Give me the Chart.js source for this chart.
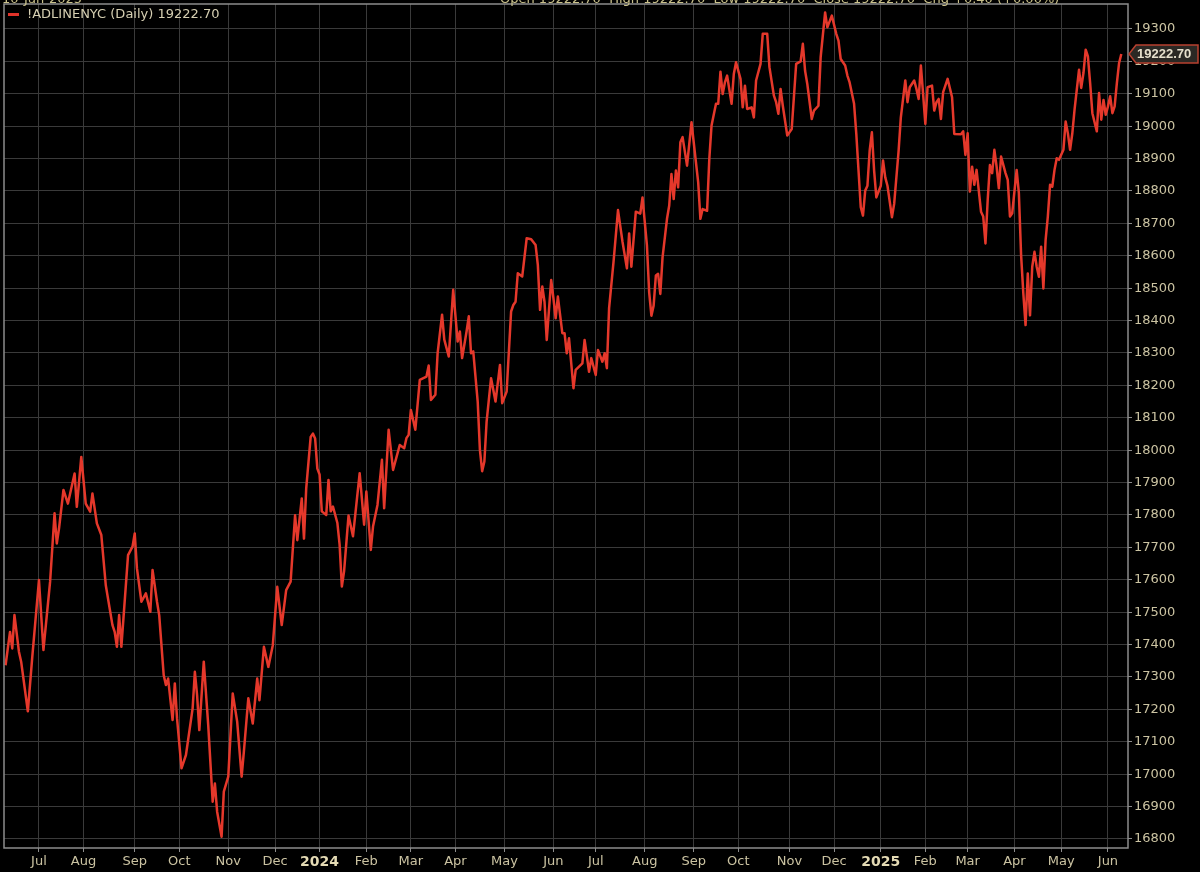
<!DOCTYPE html>
<html>
<head>
<meta charset="utf-8">
<script src="https://cdn.jsdelivr.net/npm/chart.js@4.4.1/dist/chart.umd.min.js"></script>
<style>
  html, body { margin: 0; padding: 0; background: #000; }
  #wrap { width: 1200px; height: 872px; }
</style>
</head>
<body>
<div id="wrap"><canvas id="adChart" width="1200" height="872"></canvas></div>
<script>
// month labels on the x axis (first session of each month)
const monthLabels = ['Jul', 'Aug', 'Sep', 'Oct', 'Nov', 'Dec', '2024', 'Feb', 'Mar', 'Apr', 'May', 'Jun',
    'Jul', 'Aug', 'Sep', 'Oct', 'Nov', 'Dec', '2025', 'Feb', 'Mar', 'Apr', 'May', 'Jun'];
// trading sessions before each label (first entry = 9-30 Jun 2023)
const monthSessions = [15, 20, 23, 20, 22, 21, 20, 21, 20, 20, 22, 22,
    19, 22, 22, 20, 23, 20, 21, 20, 19, 21, 21, 21];

// right axis tick labels
const yTickValues = [16800, 16900, 17000, 17100, 17200, 17300, 17400, 17500, 17600, 17700, 17800, 17900, 18000,
    18100, 18200, 18300, 18400, 18500, 18600, 18700, 18800, 18900, 19000, 19100, 19200, 19300];

// session number (0 = 9 Jun 2023) and A/D line close
const sessionNo = [
    0, 2, 3, 4, 6, 7, 10, 12, 15, 17, 20, 22, 23, 24, 26, 28, 31, 32, 34, 36, 38, 39, 41, 43, 45, 48, 49, 50, 51, 52,
    55, 57, 58, 59, 61, 63, 65, 66, 68, 69, 71, 72, 73, 75, 76, 77, 79, 81, 84, 85, 86, 87, 89, 91, 93, 94, 95, 97, 98, 100,
    102, 104, 106, 107, 109, 111, 113, 114, 116, 118, 120, 122, 124, 126, 128, 130, 131, 133, 134, 135, 137, 138, 139, 140, 141, 142, 144, 145, 146, 147,
    149, 150, 151, 152, 154, 156, 159, 161, 162, 164, 165, 167, 169, 170, 172, 174, 177, 179, 180, 181, 182, 184, 186, 189, 190, 191, 193, 194, 196, 197,
    199, 201, 203, 204, 205, 207, 208, 209, 210, 212, 213, 214, 215, 216, 218, 220, 222, 223, 225, 227, 228, 229, 230, 232, 234, 236, 238, 239, 240, 241,
    242, 243, 245, 246, 247, 248, 250, 251, 252, 253, 255, 256, 259, 260, 262, 263, 265, 266, 268, 269, 270, 271, 273, 275, 277, 279, 280, 281, 283, 285,
    286, 288, 289, 290, 291, 292, 293, 294, 295, 297, 298, 299, 300, 301, 302, 303, 304, 306, 308, 310, 311, 312, 313, 315, 316, 317, 319, 320, 321, 322,
    323, 324, 326, 327, 328, 330, 331, 332, 333, 335, 336, 337, 339, 340, 342, 343, 345, 346, 347, 348, 349, 351, 353, 355, 357, 358, 359, 360, 362, 363,
    365, 366, 368, 369, 371, 373, 374, 375, 377, 378, 379, 381, 382, 383, 384, 385, 386, 387, 388, 389, 390, 391, 393, 394, 395, 396, 398, 399, 401, 402,
    404, 405, 406, 408, 409, 410, 411, 412, 413, 414, 416, 417, 418, 419, 420, 421, 423, 425, 426, 429, 430, 431, 432, 433, 434, 435, 436, 438, 439, 440,
    441, 442, 443, 444, 445, 446, 447, 449, 450, 451, 452, 454, 455, 456, 457, 458, 459, 460, 461, 462, 463, 464, 465, 466, 467, 468, 469, 470, 471, 472,
    473, 475, 476, 477, 478, 479, 480, 482, 483, 484, 485, 486, 487, 488, 490, 491, 492, 493, 494, 495, 496, 497, 498, 499, 500, 501
];
const closeVal = [
    17336, 17439, 17388, 17491, 17378, 17347, 17194, 17362, 17599, 17383, 17594, 17805, 17712, 17758, 17877, 17835, 17928, 17825, 17979, 17835, 17810, 17866, 17774, 17738, 17583, 17460, 17439, 17393, 17491, 17393,
    17676, 17702, 17743, 17635, 17532, 17558, 17501, 17630, 17532, 17490, 17306, 17275, 17295, 17167, 17280, 17172, 17018, 17059, 17203, 17316, 17244, 17136, 17347, 17151, 16915, 16971, 16884, 16807, 16946, 16992,
    17249, 17162, 16992, 17069, 17234, 17156, 17295, 17228, 17393, 17331, 17398, 17578, 17460, 17568, 17594, 17799, 17722, 17851, 17727, 17882, 18041, 18051, 18036, 17943, 17925, 17811, 17800, 17908, 17811, 17826,
    17775, 17708, 17579, 17626, 17798, 17734, 17929, 17770, 17872, 17692, 17764, 17831, 17970, 17821, 18063, 17939, 18016, 18006, 18037, 18047, 18124, 18063, 18217, 18227, 18261, 18155, 18171, 18299, 18418, 18341,
    18289, 18495, 18335, 18366, 18284, 18366, 18413, 18299, 18305, 18150, 18000, 17935, 17965, 18088, 18222, 18150, 18263, 18145, 18181, 18428, 18448, 18458, 18546, 18536, 18654, 18651, 18633, 18572, 18433, 18505,
    18458, 18340, 18525, 18469, 18407, 18474, 18361, 18361, 18299, 18345, 18191, 18248, 18268, 18340, 18242, 18284, 18232, 18309, 18273, 18299, 18253, 18438, 18582, 18741, 18644, 18561, 18669, 18566, 18736, 18730,
    18780, 18631, 18487, 18415, 18446, 18539, 18544, 18482, 18595, 18714, 18755, 18852, 18775, 18863, 18811, 18950, 18966, 18878, 19012, 18888, 18827, 18714, 18744, 18739, 18899, 19002, 19069, 19069, 19168, 19099,
    19135, 19156, 19069, 19161, 19197, 19146, 19058, 19125, 19053, 19058, 19027, 19141, 19192, 19285, 19285, 19182, 19094, 19074, 19038, 19115, 19063, 18971, 18991, 19192, 19200, 19254, 19171, 19130, 19022, 19048,
    19063, 19213, 19351, 19305, 19341, 19285, 19264, 19207, 19187, 19156, 19135, 19069, 18976, 18863, 18750, 18724, 18801, 18816, 18924, 18981, 18863, 18780, 18816, 18894, 18842, 18816, 18719, 18760, 18924, 19027,
    19141, 19074, 19120, 19141, 19115, 19084, 19187, 19099, 19007, 19120, 19125, 19048, 19074, 19084, 19022, 19105, 19146, 19089, 18976, 18975, 18984, 18911, 18978, 18798, 18875, 18819, 18865, 18736, 18721, 18638,
    18772, 18880, 18855, 18927, 18875, 18808, 18906, 18855, 18834, 18721, 18731, 18865, 18793, 18602, 18484, 18386, 18545, 18416, 18566, 18612, 18566, 18535, 18628, 18499, 18648, 18721, 18819, 18813, 18865, 18901,
    18896, 18927, 19014, 18978, 18927, 18978, 19051, 19174, 19118, 19164, 19236, 19215, 19133, 19040, 18984, 19102, 19020, 19081, 19035, 19061, 19092, 19040, 19061, 19133, 19195, 19222.70
];

const symbolName = '!ADLINENYC (Daily)';
const quoteLine = 'Open 19222.70  High 19222.70  Low 19222.70  Close 19222.70  Chg +0.40 (+0.00%)';
const dateLine = '10-Jun-2025';

// session number where each month starts
const monthStarts = [];
let acc = 0;
monthSessions.forEach(n => { acc += n; monthStarts.push(acc); });

const lastVal = closeVal[closeVal.length - 1];
const labelColor = '#cbc3a2';

function isYear(value) {
    const lbl = monthLabels[monthStarts.indexOf(value)] || '';
    return /^\d{4}$/.test(lbl);
}

// 검은 배경
const darkBg = {
    id: 'darkBg',
    beforeDraw(chart) {
        const g = chart.ctx;
        g.save();
        g.fillStyle = '#000';
        g.fillRect(0, 0, chart.width, chart.height);
        g.restore();
    }
};

// frame, legend, value tag and header
const overlay = {
    id: 'overlay',
    afterDraw(chart) {
        const g = chart.ctx;
        const a = chart.chartArea;
        g.save();

        // plot frame
        g.strokeStyle = '#8c8c8c';
        g.lineWidth = 1.5;
        g.strokeRect(a.left, a.top, a.right - a.left, a.bottom - a.top);

        // header text cut off at the top
        g.fillStyle = '#c9c08a';
        g.font = '13px "DejaVu Sans"';
        g.textBaseline = 'alphabetic';
        g.textAlign = 'left';
        g.fillText(dateLine, 2, 3);
        g.fillText(quoteLine, 500, 3);

        // legend
        g.strokeStyle = '#e0332a';
        g.lineWidth = 3;
        g.beginPath();
        g.moveTo(8, 14.5);
        g.lineTo(19, 14.5);
        g.stroke();
        g.fillStyle = '#d6cfb2';
        g.font = '13px "DejaVu Sans"';
        g.textBaseline = 'middle';
        g.fillText(symbolName + ' ' + lastVal.toFixed(2), 27, 15);

        // last value tag on the right axis
        const y = chart.scales.y.getPixelForValue(lastVal);
        const x0 = a.right + 1;
        g.beginPath();
        g.moveTo(x0, y);
        g.lineTo(x0 + 7, y - 9);
        g.lineTo(1198, y - 9);
        g.lineTo(1198, y + 9);
        g.lineTo(x0 + 7, y + 9);
        g.closePath();
        g.fillStyle = '#2b2824';
        g.fill();
        g.strokeStyle = '#b8402f';
        g.lineWidth = 1.5;
        g.stroke();
        g.fillStyle = '#e6dfcc';
        g.font = 'bold 13px "Liberation Sans"';
        g.textAlign = 'left';
        g.fillText(lastVal.toFixed(2), x0 + 8, y + 0.5);

        g.restore();
    }
};

new Chart(document.getElementById('adChart'), {
    type: 'line',
    data: {
        datasets: [{
            label: symbolName,
            data: sessionNo.map((s, k) => ({ x: s, y: closeVal[k] })),
            borderColor: '#e5382b',
            borderWidth: 2.5,
            borderJoinStyle: 'round',
            pointRadius: 0,
            tension: 0,
            fill: false
        }]
    },
    options: {
        responsive: false,
        animation: false,
        devicePixelRatio: 1,
        layout: { padding: { left: 4, top: 4, right: 0, bottom: 0 } },
        plugins: {
            legend: { display: false },
            tooltip: { enabled: false }
        },
        scales: {
            x: {
                type: 'linear',
                min: -0.7,
                max: 504,
                afterBuildTicks(scale) {
                    scale.ticks = monthStarts.map(v => ({ value: v }));
                },
                afterFit(scale) {
                    scale.height = 24;
                    scale.paddingLeft = 0;
                    scale.paddingRight = 0;
                },
                border: { display: false },
                grid: {
                    color: '#3a3a3a',
                    lineWidth: 1,
                    tickLength: 4,
                    tickColor: '#8c8c8c'
                },
                ticks: {
                    autoSkip: false,
                    maxRotation: 0,
                    padding: 2,
                    callback(value) {
                        const k = monthStarts.indexOf(value);
                        return k >= 0 ? monthLabels[k] : '';
                    },
                    color: ctx => (ctx.tick && isYear(ctx.tick.value)) ? '#e4dab4' : labelColor,
                    font: ctx => (ctx.tick && isYear(ctx.tick.value))
                        ? { family: '"DejaVu Sans"', size: 14, weight: 'bold' }
                        : { family: '"DejaVu Sans"', size: 13 }
                }
            },
            y: {
                position: 'right',
                min: 16772,
                max: 19377,
                afterBuildTicks(scale) {
                    scale.ticks = yTickValues.map(v => ({ value: v }));
                },
                afterFit(scale) {
                    scale.width = 72;
                    scale.paddingTop = 0;
                    scale.paddingBottom = 0;
                },
                border: { display: false },
                grid: {
                    color: '#3a3a3a',
                    lineWidth: 1,
                    tickLength: 4,
                    tickColor: '#8c8c8c'
                },
                ticks: {
                    padding: 2,
                    color: labelColor,
                    font: { family: '"DejaVu Sans"', size: 13 },
                    callback: v => String(v)
                }
            }
        }
    },
    plugins: [darkBg, overlay]
});
</script>
</body>
</html>
